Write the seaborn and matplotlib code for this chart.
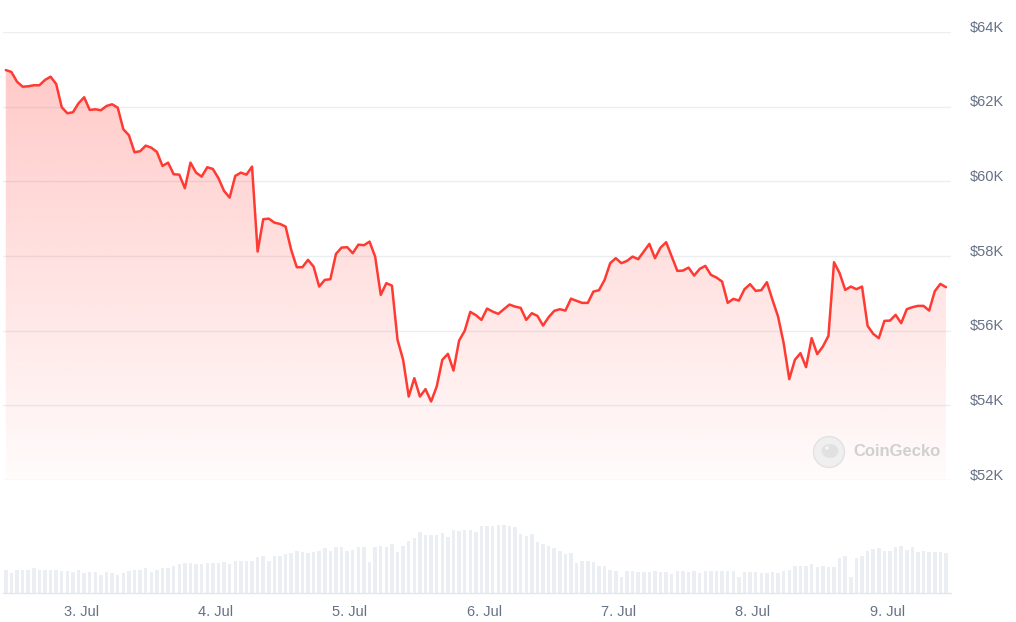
import matplotlib
matplotlib.use("Agg")
import matplotlib.pyplot as plt
import matplotlib.dates as mdates
import matplotlib.patches as mpatches
from matplotlib.transforms import ScaledTranslation
import numpy as np
import pandas as pd
import seaborn as sns

# ---------------------------------------------------------------------------
# Data (hourly BTC price in USD, hourly volume in USD bn)
# ---------------------------------------------------------------------------
START = "2024-07-02 10:30"

PRICE_USD = [
    62980, 62930, 62670, 62535, 62546, 62573, 62573, 62715, 62803, 62608,
    61984, 61823, 61850, 62091, 62252, 61912, 61930, 61904, 62019, 62064,
    61973, 61395, 61234, 60779, 60806, 60956, 60902, 60787, 60412, 60501,
    60190, 60179, 59815, 60501, 60233, 60126, 60378, 60332, 60083, 59743,
    59564, 60145, 60233, 60179, 60394, 58118, 58985, 59001, 58894, 58859,
    58787, 58163, 57700, 57700, 57896, 57716, 57181, 57360, 57379, 58056,
    58225, 58236, 58075, 58305, 58289, 58385, 57984, 56958, 57272, 57207,
    55754, 55218, 54235, 54728, 54235, 54434, 54102, 54503, 55218, 55379,
    54932, 55735, 55995, 56503, 56415, 56289, 56592, 56511, 56450, 56575,
    56699, 56645, 56610, 56289, 56468, 56396, 56137, 56361, 56530, 56575,
    56538, 56857, 56798, 56744, 56744, 57047, 57084, 57360, 57807, 57941,
    57807, 57869, 57984, 57914, 58118, 58324, 57941, 58225, 58369, 57984,
    57601, 57609, 57689, 57475, 57655, 57735, 57494, 57422, 57315, 56744,
    56851, 56806, 57111, 57245, 57066, 57084, 57298, 56825, 56377, 55665,
    54701, 55218, 55397, 55023, 55799, 55371, 55574, 55861, 57834, 57539,
    57092, 57181, 57111, 57181, 56128, 55914, 55799, 56262, 56270, 56423,
    56201, 56575, 56629, 56664, 56664, 56538, 57057, 57253, 57165,
]

VOLUME_BN = [
    14.0, 12.0, 14.0, 14.0, 14.0, 14.8, 14.0, 14.0, 14.0, 14.0,
    13.4, 13.4, 12.8, 14.0, 12.0, 12.8, 12.8, 11.0, 12.8, 12.0,
    11.0, 12.0, 13.4, 14.0, 14.0, 14.8, 12.8, 14.0, 14.8, 14.8,
    16.4, 17.2, 18.0, 18.0, 17.2, 17.2, 18.0, 18.0, 18.0, 18.6,
    17.2, 19.2, 19.2, 19.2, 19.2, 21.6, 22.4, 19.2, 22.4, 22.4,
    23.2, 24.0, 25.4, 24.8, 24.0, 24.8, 25.4, 26.8, 25.4, 27.6,
    27.6, 25.4, 26.0, 27.6, 27.6, 18.6, 27.6, 28.4, 27.6, 29.2,
    24.8, 28.4, 31.2, 32.8, 36.4, 34.6, 35.0, 35.0, 35.8, 33.6,
    38.0, 37.2, 38.0, 38.0, 36.6, 40.4, 40.4, 40.4,
    41.0, 41.0, 40.4, 39.6, 35.2, 34.4, 35.2, 30.6, 29.2, 28.4,
    26.8, 25.4, 23.2, 24.0, 18.0, 19.4, 19.4, 18.8, 16.4, 16.4,
    14.0, 13.4, 9.8, 13.4, 13.4, 12.8, 12.8, 12.8, 13.4, 12.8,
    12.8, 11.2, 13.4, 13.4, 12.8, 13.4, 12.0, 13.4, 13.4, 13.4,
    13.4, 13.4, 13.4, 9.8, 12.8, 12.8, 12.8, 12.0, 12.0, 12.8,
    12.0, 13.4, 14.0, 16.4, 16.4, 16.4, 17.2, 15.8, 16.4, 15.8,
    15.8, 21.0, 22.4, 9.8, 21.0, 22.4, 25.4, 26.2, 26.8, 25.4,
    25.4, 27.6, 28.4, 26.0, 27.6, 24.8, 25.4, 24.8, 24.8, 24.8,
    24.0,
]

DAY_TICKS = ["2024-07-03", "2024-07-04", "2024-07-05", "2024-07-06",
             "2024-07-07", "2024-07-08", "2024-07-09"]
DAY_LABELS = ["3. Jul", "4. Jul", "5. Jul", "6. Jul", "7. Jul", "8. Jul", "9. Jul"]

PRICE_TICKS = [52000, 54000, 56000, 58000, 60000, 62000, 64000]
PRICE_LABELS = ["$52K", "$54K", "$56K", "$58K", "$60K", "$62K", "$64K"]

times = pd.date_range(START, periods=len(PRICE_USD), freq="h")
df = pd.DataFrame({"time": times, "price": PRICE_USD, "volume": VOLUME_BN})

# ---------------------------------------------------------------------------
# Style
# ---------------------------------------------------------------------------
RED = "#ff3a33"
GRID = "#eceef2"
AXIS = "#e3e6eb"
VOL = "#ebeef3"
LABEL = "#667185"

sns.set_style("white")
plt.rcParams["font.family"] = ["Liberation Sans", "DejaVu Sans"]

W, H = 1016, 622
fig = plt.figure(figsize=(W / 100, H / 100), dpi=100)
fig.patch.set_facecolor("white")

ax = fig.add_axes([3 / W, 1 - 480 / H, 948 / W, 448 / H])
axv = fig.add_axes([3 / W, 1 - 593 / H, 948 / W, 73 / H], sharex=ax)

x_lo = pd.Timestamp("2024-07-02 10:00")
x_hi = pd.Timestamp("2024-07-09 11:24")

# ── price line with gradient fill ─────────────────────────────────────────
sns.lineplot(data=df, x="time", y="price", ax=ax, color=RED,
             linewidth=1.8, legend=False, zorder=3)

poly = ax.fill_between(df["time"], df["price"], PRICE_TICKS[0],
                       facecolor="none", edgecolor="none")
grad = np.zeros((256, 1, 4))
grad[..., 0] = 1.0
grad[..., 1] = 58 / 255
grad[..., 2] = 51 / 255
grad[:, 0, 3] = np.linspace(0.02, 0.29, 256)
im = ax.imshow(grad, origin="lower", aspect="auto", interpolation="bilinear",
               extent=[mdates.date2num(x_lo), mdates.date2num(x_hi),
                       PRICE_TICKS[0], PRICE_TICKS[-1]], zorder=1)
im.set_clip_path(poly.get_paths()[0], transform=ax.transData)

ax.set_xlim(x_lo, x_hi)
ax.set_ylim(PRICE_TICKS[0], PRICE_TICKS[-1])
ax.set_yticks(PRICE_TICKS)
ax.set_yticklabels(PRICE_LABELS)
ax.yaxis.tick_right()
ax.grid(axis="y", color=GRID, lw=1)
ax.grid(axis="x", visible=False)
ax.set_axisbelow(True)
for s in ax.spines.values():
    s.set_visible(False)
ax.tick_params(axis="y", length=0, pad=13.7, labelsize=10.5, labelcolor=LABEL)
ax.tick_params(axis="x", bottom=False, labelbottom=False)
ax.set_xlabel("")
ax.set_ylabel("")
for lbl in ax.get_yticklabels():
    lbl.set_transform(lbl.get_transform()
                      + ScaledTranslation(0, 0.06, fig.dpi_scale_trans))

# ── volume bars ───────────────────────────────────────────────────────────
axv.bar(df["time"], df["volume"], width=0.62 / 24, color=VOL, align="center",
        linewidth=0)
axv.set_ylim(0, 43.8)
axv.set_xlim(x_lo, x_hi)
axv.set_xticks(pd.to_datetime(DAY_TICKS))
axv.set_xticklabels(DAY_LABELS)
axv.set_yticks([])
for name, s in axv.spines.items():
    s.set_visible(name == "bottom")
axv.spines["bottom"].set_color(AXIS)
axv.spines["bottom"].set_linewidth(1)
axv.tick_params(axis="x", length=7, width=1, color=AXIS, pad=2,
                labelsize=10.5, labelcolor=LABEL)
axv.set_facecolor("none")

# ── CoinGecko watermark ───────────────────────────────────────────────────
cx, cy = 8.29, (H - 452) / 100
fig.add_artist(mpatches.Circle((cx, cy), 0.155, transform=fig.dpi_scale_trans,
                               facecolor="#efefef", edgecolor="#e2e2e2", lw=1))
fig.add_artist(mpatches.Ellipse((cx + 0.01, cy + 0.01), 0.17, 0.14,
                                transform=fig.dpi_scale_trans,
                                facecolor="#e1e1e1", edgecolor="none"))
fig.add_artist(mpatches.Circle((cx - 0.02, cy + 0.04), 0.018,
                               transform=fig.dpi_scale_trans,
                               facecolor="#f5f5f5", edgecolor="none"))
fig.text(853 / W, 1 - 452 / H, "CoinGecko", ha="left", va="center",
         fontsize=12, fontweight="bold", color="#d0d0d0")

fig.savefig("out.png", dpi=100, facecolor="white")
plt.close(fig)
